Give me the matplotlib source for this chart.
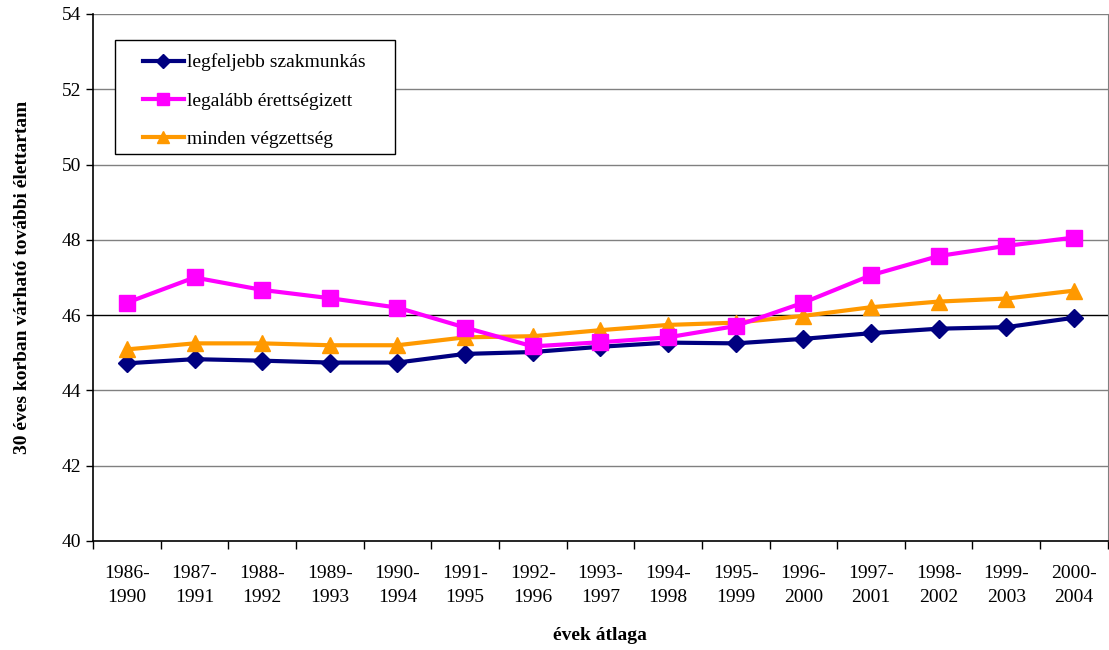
import numpy as np
import matplotlib
matplotlib.use("Agg")
import matplotlib.pyplot as plt
from matplotlib.patches import Rectangle

plt.rcParams['font.family'] = ['Liberation Serif', 'DejaVu Serif']

periods = ["1986-\n1990", "1987-\n1991", "1988-\n1992", "1989-\n1993", "1990-\n1994",
           "1991-\n1995", "1992-\n1996", "1993-\n1997", "1994-\n1998", "1995-\n1999",
           "1996-\n2000", "1997-\n2001", "1998-\n2002", "1999-\n2003", "2000-\n2004"]

szakmunkas = [44.72, 44.83, 44.79, 44.74, 44.74, 44.97, 45.02, 45.16, 45.27, 45.25,
              45.37, 45.52, 45.64, 45.68, 45.93]
erettsegi = [46.33, 47.0, 46.67, 46.45, 46.2, 45.67, 45.17, 45.28, 45.41, 45.71,
             46.33, 47.06, 47.57, 47.84, 48.06]
minden = [45.09, 45.25, 45.25, 45.2, 45.2, 45.41, 45.44, 45.6, 45.74, 45.8,
          45.98, 46.21, 46.36, 46.44, 46.65]

fig = plt.figure(figsize=(11.09, 6.5), dpi=100)
ax = fig.add_axes([0.0839, 0.1677, 0.915, 0.8108])

x = np.arange(len(periods))
ax.plot(x, szakmunkas, color='#000080', lw=3, marker='D', markersize=9,
        label='legfeljebb szakmunkás', zorder=3)
ax.plot(x, erettsegi, color='#FF00FF', lw=3, marker='s', markersize=11,
        label='legalább érettségizett', zorder=4)
ax.plot(x, minden, color='#FF9900', lw=3, marker='^', markersize=12,
        label='minden végzettség', zorder=3)

ax.set_xlim(-0.5, len(periods) - 0.5)
ax.set_ylim(40, 54)
ax.set_yticks(np.arange(40, 55, 2))
ax.set_xticks(x)
ax.set_xticklabels(periods, fontsize=14, linespacing=1.55)
ax.set_xticks(np.arange(-0.5, len(periods), 1), minor=True)
ax.tick_params(axis='x', which='major', length=0, pad=17)
ax.tick_params(axis='x', which='minor', length=6, direction='out', width=1)
ax.tick_params(axis='y', labelsize=14, length=5, direction='out', width=1)

for yv in range(42, 55, 2):
    ax.axhline(yv, color='black' if yv == 46 else '#808080', lw=1, zorder=1)

ax.spines['top'].set_visible(False)
ax.spines['right'].set_color('#808080')
ax.spines['left'].set_linewidth(1.2)
ax.spines['bottom'].set_linewidth(1.2)

ax.set_xlabel('évek átlaga', fontsize=14, fontweight='bold', labelpad=15)
ax.set_ylabel('30 éves korban várható további élettartam', fontsize=14,
              fontweight='bold', labelpad=22)

# legend box drawn separately so the inner padding matches the original
ax.add_patch(Rectangle((0.0217, 0.7343), 0.2758, 0.2164, transform=ax.transAxes,
                       facecolor='white', edgecolor='black', lw=1, zorder=5))
leg = ax.legend(loc='upper left', bbox_to_anchor=(0.049, 0.925), fontsize=14,
                frameon=False, handlelength=2.1, handletextpad=0.2,
                labelspacing=1.06, borderpad=0, borderaxespad=0,
                markerscale=0.75)
leg.set_zorder(6)

fig.savefig('out.png', dpi=100)
